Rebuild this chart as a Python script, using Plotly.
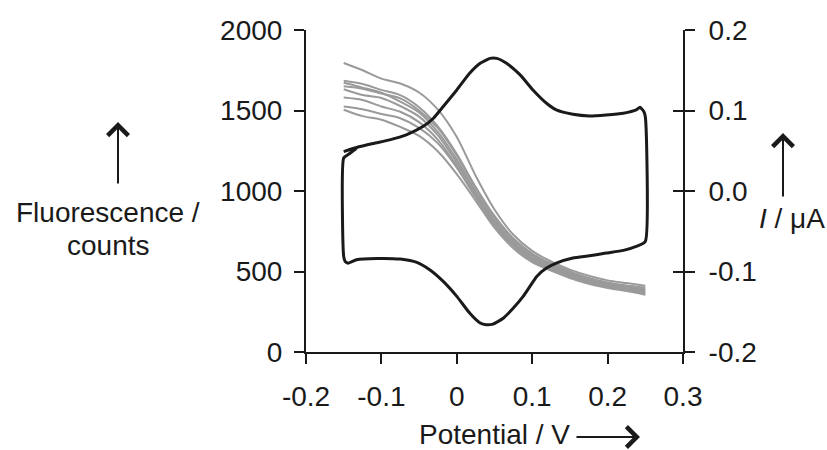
import plotly.graph_objects as go

# ---------------- data ----------------
potential_grid = [-0.15, -0.125, -0.1, -0.075, -0.05, -0.025, 0.0, 0.025, 0.05,
                  0.075, 0.1, 0.125, 0.15, 0.175, 0.2, 0.225, 0.25]

fluor_a = [1795, 1750, 1698, 1668, 1612, 1505, 1335, 1095, 885, 728, 628, 562, 512, 474, 445, 428, 412]
fluor_b = [1685, 1665, 1628, 1595, 1520, 1400, 1230, 1025, 845, 705, 612, 548, 500, 460, 432, 413, 400]
fluor_c = [1672, 1642, 1610, 1555, 1488, 1365, 1195, 995, 818, 688, 598, 534, 486, 450, 424, 404, 390]
fluor_d = [1650, 1635, 1605, 1575, 1500, 1390, 1220, 1015, 835, 700, 605, 540, 490, 455, 428, 408, 384]
fluor_e = [1632, 1596, 1578, 1528, 1462, 1345, 1175, 980, 805, 676, 588, 526, 478, 444, 418, 398, 376]
fluor_f = [1580, 1565, 1525, 1492, 1428, 1318, 1155, 970, 798, 668, 578, 520, 472, 440, 412, 392, 370]
fluor_g = [1525, 1508, 1478, 1452, 1392, 1296, 1145, 960, 788, 658, 568, 512, 466, 432, 405, 386, 362]
fluor_h = [1505, 1465, 1443, 1398, 1342, 1245, 1105, 940, 772, 644, 558, 505, 460, 424, 398, 378, 356]
fluorescence_series = [fluor_a, fluor_b, fluor_c, fluor_d, fluor_e, fluor_f, fluor_g, fluor_h]

# cyclic voltammogram (closed loop, two passes at the start)
cv_potential = [-0.150, -0.133, -0.111, -0.089, -0.067, -0.045, -0.031, -0.018, 0.000, 0.017,
                0.031, 0.044, 0.053, 0.066, 0.084, 0.101, 0.119, 0.132, 0.154, 0.176,
                0.198, 0.221, 0.238, 0.243, 0.248, 0.250, 0.250,
                0.238, 0.221, 0.198, 0.176, 0.154, 0.132, 0.119, 0.106, 0.097, 0.088,
                0.075, 0.062, 0.048, 0.039, 0.031, 0.017, 0.000, -0.018, -0.036, -0.053,
                -0.075, -0.106, -0.133, -0.144, -0.148, -0.150, -0.150, -0.143, -0.133]
cv_current = [0.049, 0.054, 0.059, 0.0635, 0.0697, 0.080, 0.0904, 0.1049, 0.1255, 0.1462,
              0.1586, 0.1648, 0.1648, 0.1586, 0.1442, 0.1255, 0.109, 0.1007, 0.0953, 0.0933,
              0.0945, 0.0966, 0.1007, 0.104, 0.0987, 0.0925, -0.0627,
              -0.0689, -0.0738, -0.0771, -0.0805, -0.0833, -0.0896, -0.0958, -0.1061, -0.1185, -0.1309,
              -0.1454, -0.1578, -0.1653, -0.1661, -0.164, -0.1516, -0.1309, -0.1123, -0.0978, -0.0887,
              -0.0846, -0.0838, -0.0854, -0.0896, -0.0875, -0.0813, 0.041, 0.046, 0.053]

x_ticks = [-0.2, -0.1, 0.0, 0.1, 0.2, 0.3]
x_ticktext = ["-0.2", "-0.1", "0", "0.1", "0.2", "0.3"]
y_ticks = [0, 500, 1000, 1500, 2000]
y_ticktext = ["0", "500", "1000", "1500", "2000"]
y2_ticks = [-0.2, -0.1, 0.0, 0.1, 0.2]
y2_ticktext = ["-0.2", "-0.1", "0.0", "0.1", "0.2"]

# ---------------- figure ----------------
FONT = "Liberation Sans, Arial, Helvetica, sans-serif"
FS = 28
INK = "#1a1a1a"

fig = go.Figure()
for series in fluorescence_series:
    fig.add_trace(go.Scatter(x=potential_grid, y=series, mode="lines",
                             line=dict(color="#9a9a9a", width=2, shape="spline", smoothing=0.8),
                             showlegend=False, hoverinfo="skip"))

fig.add_trace(go.Scatter(x=cv_potential, y=cv_current, mode="lines", yaxis="y2",
                         line=dict(color=INK, width=3, shape="spline", smoothing=0.5),
                         showlegend=False, hoverinfo="skip"))
# helper trace so the inside-tick overlay axis is drawn
fig.add_trace(go.Scatter(x=[None], y=[None], yaxis="y3", showlegend=False, hoverinfo="skip"))

axis_common = dict(showline=True, linecolor=INK, linewidth=2, ticklen=10, tickwidth=2,
                   tickcolor=INK, showgrid=False, zeroline=False,
                   tickfont=dict(family=FONT, size=FS, color=INK))

fig.update_layout(
    width=827, height=450,
    margin=dict(l=306, r=144, t=30, b=98),
    paper_bgcolor="white", plot_bgcolor="white",
    font=dict(family=FONT, size=FS, color=INK),
    xaxis=dict(range=[-0.2, 0.3], tickmode="array", tickvals=x_ticks, ticktext=x_ticktext,
               ticks="outside", ticklabelstandoff=8, **axis_common),
    yaxis=dict(range=[0, 2000], tickmode="array", tickvals=y_ticks, ticktext=y_ticktext,
               ticks="outside", ticklabelstandoff=6, **axis_common),
    yaxis2=dict(range=[-0.2, 0.2], tickmode="array", tickvals=y2_ticks, ticktext=y2_ticktext,
                overlaying="y", side="right", anchor="x", ticks="outside",
                ticklabelstandoff=8, **axis_common),
    yaxis3=dict(range=[-0.2, 0.2], tickmode="array", tickvals=y2_ticks, overlaying="y",
                side="right", anchor="x", ticks="inside", showticklabels=False,
                showline=False, ticklen=10, tickwidth=2, tickcolor=INK,
                showgrid=False, zeroline=False),
)

def px_to_paper(px, py):
    return (px - 306) / 377.0, (352 - py) / 322.0

annotations = []
# text labels
for txt, (px, py) in [("Fluorescence /", (108, 212)), ("counts", (108, 245)),
                      ("<i>I</i> / μA", (792, 219)), ("Potential / V", (494, 434))]:
    ax_, ay_ = px_to_paper(px, py)
    annotations.append(dict(text=txt, x=ax_, y=ay_, xref="paper", yref="paper",
                            showarrow=False, xanchor="center", yanchor="middle",
                            font=dict(family=FONT, size=FS, color=INK)))
# arrows (tip position, tail offset in pixels)
for (px, py, dx, dy) in [(118, 122, 0, 63), (783, 133, 0, 65), (640, 437, -65, 0)]:
    ax_, ay_ = px_to_paper(px, py)
    annotations.append(dict(text="", x=ax_, y=ay_, xref="paper", yref="paper",
                            showarrow=True, ax=dx, ay=dy, arrowhead=4, arrowsize=2,
                            arrowwidth=2, arrowcolor=INK, standoff=0))
fig.update_layout(annotations=annotations)

fig.write_html("out.html")
